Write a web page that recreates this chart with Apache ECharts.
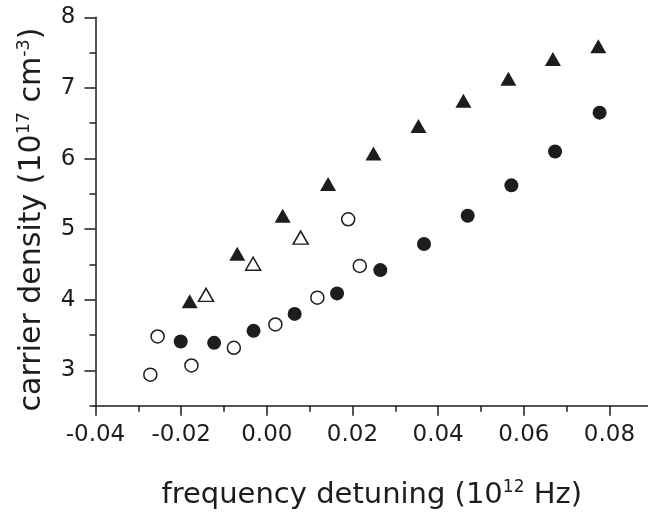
<!DOCTYPE html>
<html><head><meta charset="utf-8">
<script src="https://cdn.jsdelivr.net/npm/echarts@6/dist/echarts.min.js"></script>
<style>html,body{margin:0;padding:0;background:#fff}#c{width:648px;height:522px}</style>
</head><body><div id="c"></div>
<script>
// Filled triangles
const filledTriX = [-0.0180, -0.0069, 0.0037, 0.0143, 0.0249, 0.0354, 0.0459, 0.0564, 0.0668, 0.0774];
const filledTriY = [3.98, 4.65, 5.19, 5.64, 6.07, 6.46, 6.82, 7.13, 7.41, 7.59];
// Open triangles
const openTriX = [-0.0142, -0.0032, 0.0079];
const openTriY = [4.07, 4.51, 4.88];
// Filled circles
const filledCircX = [-0.0201, -0.0123, -0.0031, 0.0065, 0.0164, 0.0265, 0.0367, 0.0469, 0.0571, 0.0673, 0.0777];
const filledCircY = [3.41, 3.39, 3.56, 3.80, 4.09, 4.42, 4.79, 5.19, 5.62, 6.10, 6.65];
// Open circles
const openCircX = [-0.0272, -0.0255, -0.0176, -0.0077, 0.0020, 0.0118, 0.0190, 0.0217];
const openCircY = [2.94, 3.48, 3.07, 3.32, 3.65, 4.03, 5.14, 4.48];
// Ticks
const xMajorTicks = [-0.04, -0.02, 0.00, 0.02, 0.04, 0.06, 0.08];
const xMinorTicks = [-0.03, -0.01, 0.01, 0.03, 0.05, 0.07];
const yMajorTicks = [3, 4, 5, 6, 7, 8];
const yMinorTicks = [2.5, 3.5, 4.5, 5.5, 6.5, 7.5];

const INK = '#1e1c1d';
const FONT = 'DejaVu Sans';
const zip = (xs, ys) => xs.map((x, i) => [x, ys[i]]);

const chart = echarts.init(document.getElementById('c'), null, {renderer: 'canvas'});
const lineStyle = {color: INK, width: 1.5};
const supStyle = {fontFamily: FONT, fontSize: 17, color: INK, verticalAlign: 'top', lineHeight: 20};

chart.setOption({
  animation: false,
  backgroundColor: '#fff',
  grid: {left: 95.5, right: 0, top: 17.3, bottom: 116.3, containLabel: false},
  xAxis: [{
    type: 'value', min: -0.04, max: 0.089, position: 'bottom',
    axisLine: {show: true, onZero: false, lineStyle},
    axisTick: {show: true, inside: false, length: 10, customValues: xMajorTicks, lineStyle},
    axisLabel: {customValues: xMajorTicks, formatter: v => v.toFixed(2), fontFamily: FONT, fontSize: 23, color: INK, margin: 18},
    splitLine: {show: false},
    name: 'frequency detuning (10{sup|12} Hz)',
    nameLocation: 'middle', nameGap: 73,
    nameTextStyle: {fontFamily: FONT, fontSize: 29, color: INK, lineHeight: 34, rich: {sup: supStyle}}
  }, {
    type: 'value', min: -0.04, max: 0.089, position: 'bottom',
    axisLine: {show: false, onZero: false},
    axisTick: {show: true, inside: false, length: 6, customValues: xMinorTicks, lineStyle},
    axisLabel: {show: false},
    splitLine: {show: false}
  }],
  yAxis: [{
    type: 'value', min: 2.5, max: 8, position: 'left',
    axisLine: {show: true, onZero: false, lineStyle},
    axisTick: {show: true, inside: false, length: 11, customValues: yMajorTicks, lineStyle},
    axisLabel: {customValues: yMajorTicks, formatter: v => String(v), fontFamily: FONT, fontSize: 23, color: INK, margin: 20},
    splitLine: {show: false},
    name: 'carrier density (10{sup|17} cm{sup|-3})',
    nameLocation: 'middle', nameRotate: 90, nameGap: 45,
    nameTextStyle: {fontFamily: FONT, fontSize: 30, color: INK, lineHeight: 35, padding: [0, 16, 0, 0],
      rich: {sup: {fontFamily: FONT, fontSize: 17.5, color: INK, verticalAlign: 'top', lineHeight: 20}}}
  }, {
    type: 'value', min: 2.5, max: 8, position: 'left',
    axisLine: {show: false, onZero: false},
    axisTick: {show: true, inside: false, length: 6, customValues: yMinorTicks, lineStyle},
    axisLabel: {show: false},
    splitLine: {show: false}
  }],
  series: [
    {type: 'scatter', name: 'filled triangles', xAxisIndex: 0, yAxisIndex: 0, data: zip(filledTriX, filledTriY),
     symbol: 'triangle', symbolSize: [16, 14], itemStyle: {color: INK, opacity: 1}},
    {type: 'scatter', name: 'open triangles', xAxisIndex: 0, yAxisIndex: 0, data: zip(openTriX, openTriY),
     symbol: 'triangle', symbolSize: [15, 13], itemStyle: {color: '#fff', borderColor: INK, borderWidth: 1.5, opacity: 1}},
    {type: 'scatter', name: 'filled circles', xAxisIndex: 0, yAxisIndex: 0, data: zip(filledCircX, filledCircY),
     symbol: 'circle', symbolSize: 14, itemStyle: {color: INK, opacity: 1}},
    {type: 'scatter', name: 'open circles', xAxisIndex: 0, yAxisIndex: 0, data: zip(openCircX, openCircY),
     symbol: 'circle', symbolSize: 13, itemStyle: {color: '#fff', borderColor: INK, borderWidth: 1.5, opacity: 1}}
  ]
});
</script>
</body></html>
